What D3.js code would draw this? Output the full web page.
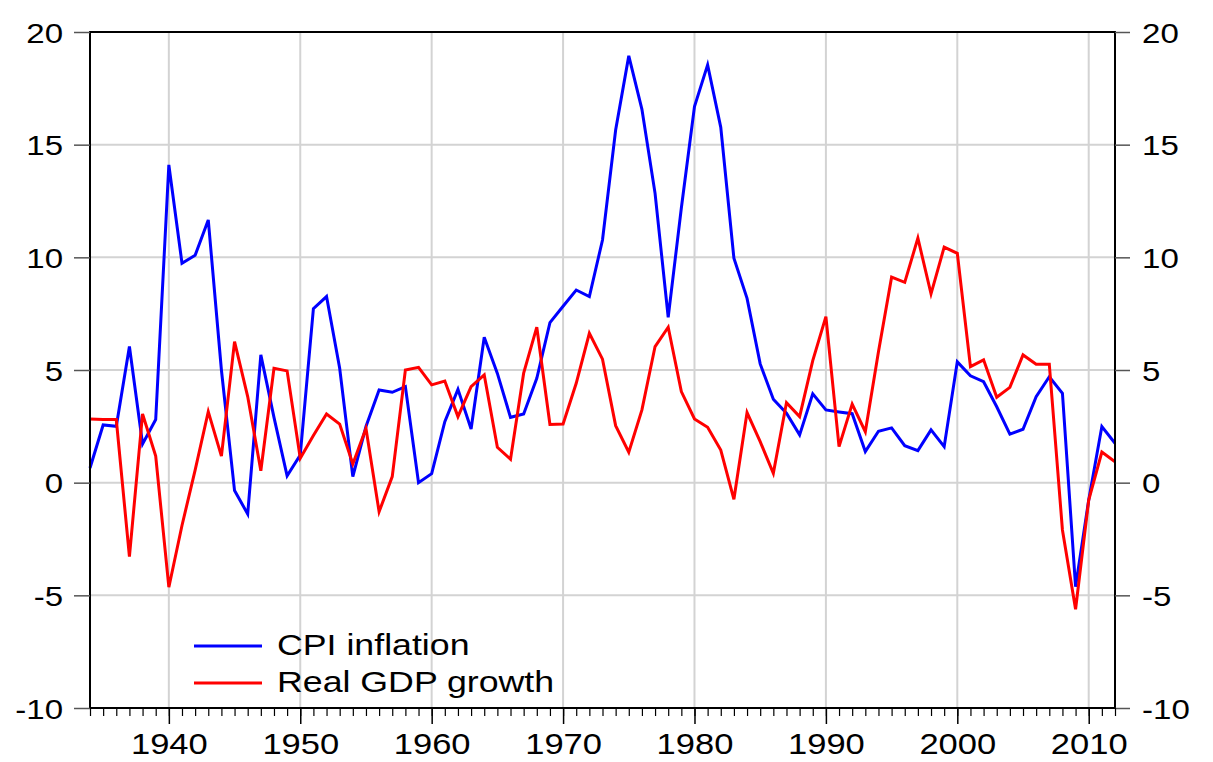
<!DOCTYPE html>
<html>
<head>
<meta charset="utf-8">
<script src="https://cdn.jsdelivr.net/npm/d3@7"></script>
<style>
body { margin: 0; background: #fff; }
text { font-family: "Liberation Sans", Arial, sans-serif; fill: #000; }
</style>
</head>
<body>
<svg width="1213" height="762"></svg>
<script>
var years = d3.range(1934, 2013);

var cpi = [0.65, 2.56, 2.5, 6.04, 1.72, 2.8, 14.1, 9.74, 10.09, 11.66,
  5.0, -0.35, -1.39, 5.67, 2.9, 0.3, 1.23, 7.72, 8.26, 5.08,
  0.27, 2.49, 4.11, 4.01, 4.26, 0.0, 0.4, 2.71, 4.14, 2.38,
  6.45, 4.85, 2.9, 3.05, 4.63, 7.1, 7.83, 8.55, 8.26, 10.77,
  15.65, 18.94, 16.57, 12.84, 7.34, 12.19, 16.69, 18.54, 15.77, 9.96,
  8.18, 5.27, 3.7, 3.08, 2.12, 3.94, 3.23, 3.14, 3.06, 1.38,
  2.28, 2.43, 1.64, 1.42, 2.34, 1.6, 5.36, 4.74, 4.48, 3.37,
  2.15, 2.37, 3.82, 4.7, 3.97, -4.62, -0.77, 2.49, 1.75];

var gdp = [2.83, 2.8, 2.8, -3.28, 3.05, 1.18, -4.64, -1.9, 0.56, 3.15,
  1.18, 6.26, 3.82, 0.53, 5.08, 4.96, 1.08, 2.09, 3.05, 2.6,
  0.83, 2.41, -1.29, 0.27, 5.0, 5.12, 4.34, 4.51, 2.93, 4.26,
  4.78, 1.57, 1.04, 4.86, 6.9, 2.58, 2.6, 4.41, 6.63, 5.48,
  2.53, 1.35, 3.23, 6.04, 6.9, 4.04, 2.83, 2.46, 1.45, -0.74,
  3.11, 1.82, 0.42, 3.55, 2.93, 5.42, 7.37, 1.6, 3.49, 2.26,
  5.81, 9.12, 8.89, 10.85, 8.38, 10.45, 10.18, 5.15, 5.45, 3.79,
  4.23, 5.67, 5.26, 5.26, -2.1, -5.62, -0.77, 1.36, 0.93];

var yTicks = [-10, -5, 0, 5, 10, 15, 20];
var decadeTicks = [1940, 1950, 1960, 1970, 1980, 1990, 2000, 2010];

var seriesNames = ["CPI inflation", "Real GDP growth"];
var seriesColors = ["#0000ff", "#ff0000"];

var svg = d3.select("svg");
var plotL = 90, plotR = 1115, plotT = 32, plotB = 708;

var x = d3.scaleLinear().domain([1934, 2012]).range([plotL, plotR]);
var y = d3.scaleLinear().domain([-10, 20]).range([plotB, plotT]);

// the original picture is a bit wider than tall, so text is stretched sideways
function stretch(sel, f) {
  sel.each(function() {
    var w = this.getComputedTextLength();
    d3.select(this).attr("textLength", w * f).attr("lengthAdjust", "spacingAndGlyphs");
  });
}

// grid
svg.append("g").selectAll("line")
  .data(yTicks.slice(1, -1))
  .enter().append("line")
  .attr("x1", plotL).attr("x2", plotR)
  .attr("y1", d => y(d)).attr("y2", d => y(d))
  .attr("stroke", "#d3d3d3").attr("stroke-width", 2);

svg.append("g").selectAll("line")
  .data(decadeTicks)
  .enter().append("line")
  .attr("x1", d => x(d)).attr("x2", d => x(d))
  .attr("y1", plotT).attr("y2", plotB)
  .attr("stroke", "#d3d3d3").attr("stroke-width", 2);

// lines
var line = d3.line()
  .x((d, i) => x(years[i]))
  .y(d => y(d));

[cpi, gdp].forEach(function(s, k) {
  svg.append("path")
    .datum(s)
    .attr("d", line)
    .attr("fill", "none")
    .attr("stroke", seriesColors[k])
    .attr("stroke-width", 3);
});

// frame
svg.append("rect")
  .attr("x", plotL).attr("y", plotT)
  .attr("width", plotR - plotL).attr("height", plotB - plotT)
  .attr("fill", "none").attr("stroke", "#000").attr("stroke-width", 2);

// y axes (plain hyphen for negatives, like the original)
var fmt = d => String(d);
var yLeft = d3.axisLeft(y).tickValues(yTicks).tickSize(16).tickPadding(11).tickFormat(fmt);
var yRight = d3.axisRight(y).tickValues(yTicks).tickSize(15).tickPadding(12).tickFormat(fmt);

var gl = svg.append("g").attr("transform", "translate(" + plotL + ",0)").call(yLeft);
var gr = svg.append("g").attr("transform", "translate(" + plotR + ",0)").call(yRight);
[gl, gr].forEach(function(g) {
  g.select(".domain").remove();
  g.selectAll(".tick line").attr("stroke", "#555").attr("stroke-width", 1.5);
  g.selectAll("text").style("font-size", "28px").attr("fill", "#000").attr("dy", "0.36em");
  stretch(g.selectAll("text"), 1.18);
});

// x axis: minor yearly ticks + decade labels
var gxMinor = svg.append("g").attr("transform", "translate(0," + plotB + ")")
  .call(d3.axisBottom(x).tickValues(years).tickSize(8).tickFormat(""));
gxMinor.select(".domain").remove();
gxMinor.selectAll(".tick line").attr("stroke", "#000").attr("stroke-width", 1.2);

var gx = svg.append("g").attr("transform", "translate(0," + plotB + ")")
  .call(d3.axisBottom(x).tickValues(decadeTicks).tickSize(16).tickPadding(9).tickFormat(fmt));
gx.select(".domain").remove();
gx.selectAll(".tick line").attr("stroke", "#000").attr("stroke-width", 1.5);
gx.selectAll("text").style("font-size", "30px").attr("fill", "#000");
stretch(gx.selectAll("text"), 1.15);

// legend
var legend = svg.append("g").attr("transform", "translate(194,646)");
seriesNames.forEach(function(name, k) {
  var row = legend.append("g").attr("transform", "translate(0," + (k * 37) + ")");
  row.append("line")
    .attr("x1", 0).attr("x2", 68)
    .attr("y1", 0).attr("y2", 0)
    .attr("stroke", seriesColors[k]).attr("stroke-width", 3);
  var t = row.append("text")
    .attr("x", 83).attr("y", 9)
    .style("font-size", "30px")
    .text(name);
  stretch(t, 1.19);
});
</script>
</body>
</html>
